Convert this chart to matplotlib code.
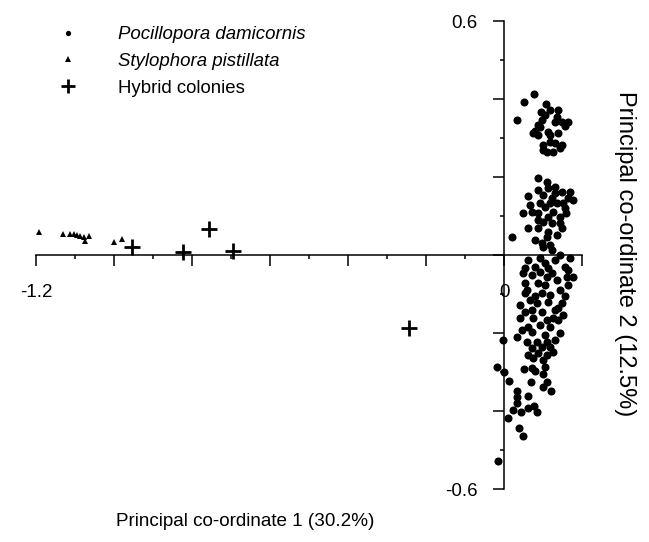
"""PCoA scatter: Pocillopora damicornis / Stylophora pistillata / hybrid colonies."""
import numpy as np
import matplotlib
matplotlib.use("Agg")
import matplotlib.pyplot as plt
from matplotlib.lines import Line2D
from matplotlib.ticker import FixedLocator, FixedFormatter, MultipleLocator

plt.rcParams['font.family'] = ['Liberation Sans', 'DejaVu Sans']

# ---- data (PC1, PC2) ---------------------------------------------------- #
stylophora_x = [-1.192, -1.131, -1.113, -1.103, -1.095, -1.087, -1.077, -1.074, -1.064, -1.000, -0.979]
stylophora_y = [0.059, 0.054, 0.054, 0.054, 0.051, 0.049, 0.046, 0.036, 0.049, 0.033, 0.041]

hybrid_x = [-0.954, -0.823, -0.756, -0.695, -0.244]
hybrid_y = [0.021, 0.008, 0.067, 0.010, -0.187]

pocillopora = [
    # upper group
    (0.077, 0.413), (0.051, 0.392), (0.033, 0.346), (0.108, 0.387), (0.095, 0.367),
    (0.118, 0.372), (0.138, 0.372), (0.136, 0.354), (0.149, 0.341), (0.164, 0.341),
    (0.097, 0.346), (0.092, 0.328), (0.074, 0.313), (0.087, 0.308), (0.118, 0.308),
    (0.138, 0.313), (0.100, 0.282), (0.110, 0.264), (0.126, 0.264), (0.144, 0.274),
    (0.118, 0.290), (0.087, 0.333), (0.079, 0.318), (0.113, 0.315), (0.131, 0.287),
    (0.149, 0.282), (0.100, 0.269), (0.131, 0.341), (0.156, 0.331), (0.105, 0.359),
    # second group
    (0.087, 0.197), (0.110, 0.187), (0.131, 0.174), (0.149, 0.162), (0.164, 0.146),
    (0.177, 0.141), (0.062, 0.151), (0.087, 0.167), (0.100, 0.154), (0.092, 0.133),
    (0.123, 0.146), (0.136, 0.133), (0.151, 0.133), (0.049, 0.108), (0.072, 0.110),
    (0.087, 0.108), (0.126, 0.110), (0.144, 0.097), (0.100, 0.085), (0.123, 0.082),
    (0.144, 0.082), (0.062, 0.069), (0.087, 0.069), (0.113, 0.059), (0.021, 0.046),
    (0.079, 0.038), (0.097, 0.031), (0.118, 0.026), (0.110, 0.046), (0.144, 0.000),
    (0.156, 0.121), (0.169, 0.162), (0.113, 0.172), (0.131, 0.159), (0.149, 0.069),
    (0.136, 0.051), (0.100, 0.021), (0.123, 0.013), (0.105, 0.123), (0.067, 0.128),
    (0.113, 0.097), (0.159, 0.108), (0.118, 0.133), (0.087, 0.090),
    # lower group
    (0.062, -0.013), (0.079, -0.031), (0.072, -0.051), (0.105, -0.021), (0.131, -0.013),
    (0.156, -0.031), (0.123, -0.046), (0.177, -0.056), (0.054, -0.072), (0.087, -0.072),
    (0.136, -0.064), (0.049, -0.046), (0.092, -0.044), (0.110, -0.056), (0.162, -0.056),
    (0.164, -0.077), (0.054, -0.097), (0.097, -0.097), (0.118, -0.103), (0.067, -0.115),
    (0.085, -0.123), (0.113, -0.121), (0.149, -0.123), (0.072, -0.141), (0.097, -0.146),
    (0.131, -0.141), (0.041, -0.162), (0.074, -0.162), (0.110, -0.167), (0.138, -0.167),
    (0.062, -0.185), (0.092, -0.179), (0.118, -0.185), (0.144, -0.200), (0.072, -0.197),
    (0.033, -0.210), (-0.003, -0.218), (0.059, -0.223), (0.085, -0.223), (0.110, -0.223),
    (0.131, -0.218), (0.072, -0.238), (0.097, -0.236), (0.118, -0.236), (0.062, -0.256),
    (0.087, -0.251), (0.110, -0.256), (0.126, -0.249), (0.074, -0.264), (0.100, -0.269),
    (0.059, -0.090), (0.144, -0.090), (0.105, -0.077), (0.156, -0.105), (0.041, -0.128),
    (0.126, -0.162), (0.164, -0.038), (0.169, -0.008), (0.092, -0.008), (0.054, -0.033),
    (0.113, -0.033), (0.079, -0.105), (0.138, -0.136), (0.054, -0.146), (0.151, -0.154),
    (0.105, -0.205), (0.046, -0.192),
    # bottom tail
    (-0.018, -0.287), (0.000, -0.300), (0.013, -0.323), (0.051, -0.292), (0.072, -0.290),
    (0.079, -0.297), (0.105, -0.287), (0.100, -0.305), (0.110, -0.326), (0.100, -0.338),
    (0.121, -0.349), (0.069, -0.326), (0.033, -0.349), (0.033, -0.364), (0.062, -0.362),
    (0.033, -0.379), (0.023, -0.397), (0.044, -0.403), (0.062, -0.392), (0.077, -0.387),
    (0.085, -0.403), (0.010, -0.418), (0.038, -0.444), (0.049, -0.464), (-0.015, -0.528),
]

labels = ['Pocillopora damicornis', 'Stylophora pistillata', 'Hybrid colonies']
x_label = 'Principal co-ordinate 1 (30.2%)'
y_label = 'Principal co-ordinate 2 (12.5%)'
x_shown = {-1.2: '-1.2', 0.0: '0'}
y_shown = {0.6: '0.6', -0.6: '-0.6'}

# ---- figure ------------------------------------------------------------- #
W, H = 649, 542
fig = plt.figure(figsize=(W / 100, H / 100), dpi=100)
ax = fig.add_axes([36 / W, (H - 489) / H, 546 / W, 468 / H])

P = np.array(pocillopora)
ax.plot(P[:, 0], P[:, 1], 'o', ms=5.8, color='black', mec='black', mew=0, clip_on=False)
ax.plot(stylophora_x, stylophora_y, '^', ms=5, color='black', mew=0, clip_on=False)
ax.plot(hybrid_x, hybrid_y, '+', ms=12, color='black', mew=2, clip_on=False)

ax.set_xlim(-1.2, 0.2)
ax.set_ylim(-0.6, 0.6)

for s in ('top', 'right'):
    ax.spines[s].set_visible(False)
ax.spines['left'].set_position(('data', 0))
ax.spines['bottom'].set_position(('data', 0))
for s in ('left', 'bottom'):
    ax.spines[s].set_linewidth(1.1)

xt = np.round(np.arange(-1.2, 0.21, 0.2), 1)
yt = np.round(np.arange(-0.6, 0.61, 0.2), 1)
ax.xaxis.set_major_locator(FixedLocator(xt))
ax.yaxis.set_major_locator(FixedLocator(yt))
ax.xaxis.set_major_formatter(FixedFormatter([x_shown.get(v, '') for v in xt]))
ax.yaxis.set_major_formatter(FixedFormatter([y_shown.get(v, '') for v in yt]))
ax.xaxis.set_minor_locator(MultipleLocator(0.1))
ax.yaxis.set_minor_locator(MultipleLocator(0.1))
ax.tick_params(which='major', direction='out', length=8, width=1.1, labelsize=13.5, pad=13)
ax.tick_params(which='minor', direction='out', length=3, width=1.1)
ax.tick_params(axis='y', which='major', pad=11)

ax.set_xlabel(x_label, fontsize=13.6)
ax.xaxis.label.set_va('center')
ax.xaxis.set_label_coords((245 - 36) / 546, (489 - 522) / 468)
ax.set_ylabel(y_label, fontsize=17, rotation=270)
ax.yaxis.label.set_va('center')
ax.yaxis.set_label_coords((625 - 36) / 546, (489 - 254) / 468)

handles = [
    Line2D([], [], ls='', marker='o', ms=3.8, color='black', mew=0),
    Line2D([], [], ls='', marker='^', ms=4, color='black', mew=0),
    Line2D([], [], ls='', marker='+', ms=10, color='black', mew=2),
]
leg = fig.legend(handles, labels, loc='upper left', bbox_to_anchor=(49 / W, 1 - 26 / H),
                 frameon=False, fontsize=13.4, handlelength=2.0, handletextpad=1.7,
                 borderpad=0, borderaxespad=0, labelspacing=0.53, numpoints=1)
for t in leg.get_texts()[:2]:
    t.set_style('italic')

fig.savefig('out.png', dpi=100)
